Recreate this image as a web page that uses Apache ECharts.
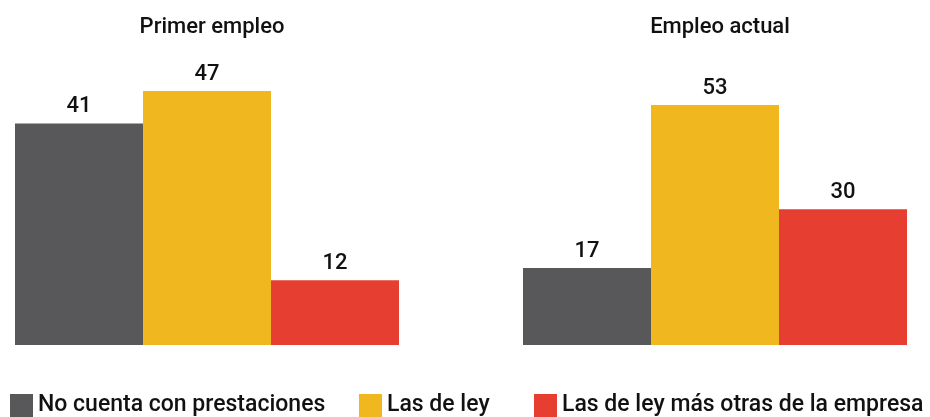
<!DOCTYPE html>
<html>
<head>
<meta charset="utf-8">
<script src="https://cdn.jsdelivr.net/npm/echarts@6/dist/echarts.min.js"></script>
<style>
  html, body { margin: 0; padding: 0; background: #fff; }
  #chart { width: 930px; height: 417px; }
</style>
</head>
<body>
<div id="chart"></div>
<script>
var panels = ['Primer empleo', 'Empleo actual'];
var seriesNames = ['No cuenta con prestaciones', 'Las de ley', 'Las de ley más otras de la empresa'];
var noCuenta = [41, 17];
var deLey = [47, 53];
var leyMasOtras = [12, 30];

var colors = ['#58585a', '#f0b71f', '#e63f32'];
var values = [noCuenta, deLey, leyMasOtras];
var font = 'Roboto, Liberation Sans, sans-serif';

var grids = [
    { left: 15, width: 384, top: 91, bottom: 72 },
    { left: 523, width: 384, top: 105, bottom: 72 }
];

var series = [];
panels.forEach(function (p, pi) {
    seriesNames.forEach(function (name, si) {
        series.push({
            name: name,
            type: 'bar',
            xAxisIndex: pi,
            yAxisIndex: pi,
            data: [values[si][pi]],
            barGap: '0%',
            barCategoryGap: '0%',
            itemStyle: { color: colors[si] },
            label: {
                show: true,
                position: 'top',
                distance: 6,
                color: '#111',
                fontSize: 22,
                fontWeight: 500,
                fontFamily: font
            }
        });
    });
});

var titleStyle = { fontSize: 22, fontWeight: 500, color: '#111', fontFamily: font };

var option = {
    animation: false,
    color: colors,
    title: [
        { text: panels[0], left: 207, textAlign: 'center', top: 11, textStyle: titleStyle },
        { text: panels[1], left: 715, textAlign: 'center', top: 11, textStyle: titleStyle }
    ],
    legend: [
        { data: [seriesNames[0]], left: 10, top: 394 },
        { data: [seriesNames[1]], left: 359, top: 394 },
        { data: [seriesNames[2]], left: 534, top: 394 }
    ].map(function (l) {
        l.icon = 'rect';
        l.itemWidth = 23;
        l.itemHeight = 23;
        l.itemGap = 0;
        l.padding = 0;
        l.selectedMode = false;
        l.textStyle = { fontSize: 23, fontWeight: 500, color: '#111', fontFamily: font,
                        padding: [5, 0, 0, 0] };
        return l;
    }),
    grid: grids,
    xAxis: panels.map(function (p, i) {
        return { type: 'category', gridIndex: i, data: [p], show: false };
    }),
    yAxis: [
        { type: 'value', gridIndex: 0, min: 0, max: Math.max(noCuenta[0], deLey[0], leyMasOtras[0]), show: false },
        { type: 'value', gridIndex: 1, min: 0, max: Math.max(noCuenta[1], deLey[1], leyMasOtras[1]), show: false }
    ],
    series: series
};

var chart = echarts.init(document.getElementById('chart'));
chart.setOption(option);
</script>
</body>
</html>
